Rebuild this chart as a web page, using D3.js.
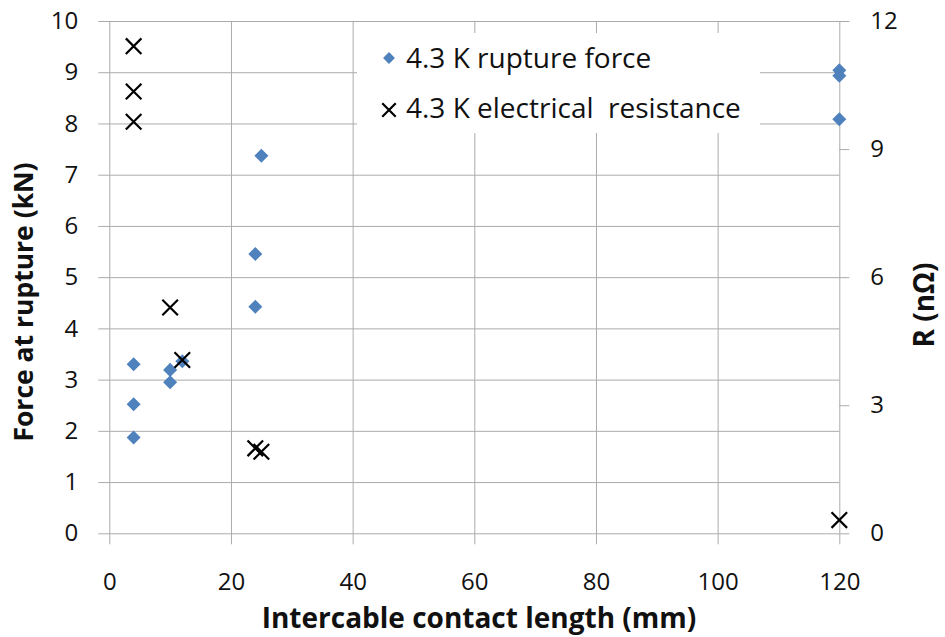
<!DOCTYPE html>
<html>
<head>
<meta charset="utf-8">
<script src="https://cdn.jsdelivr.net/npm/d3@7"></script>
<style>
  html, body { margin: 0; padding: 0; background: #fff; }
  svg { display: block; }
  text { font-family: "Open Sans", Lato, sans-serif; fill: #111; }
</style>
</head>
<body>
<svg id="chart" width="945" height="637"></svg>
<script>
// Contact length (mm) and rupture force (kN) at 4.3 K
const forceLength = [4, 4, 4, 10, 10, 12, 24, 24, 25, 120, 120, 120];
const forceValue  = [3.30, 2.52, 1.87, 3.19, 2.95, 3.36, 4.42, 5.45, 7.37, 9.04, 8.93, 8.08];

// Contact length (mm) and electrical resistance (nΩ) at 4.3 K
const resLength = [4, 4, 4, 10, 12, 24, 25, 120];
const resValue  = [11.41, 10.35, 9.64, 5.29, 4.06, 1.99, 1.91, 0.31];

const xTicks = [0, 20, 40, 60, 80, 100, 120];
const leftTicks = [0, 1, 2, 3, 4, 5, 6, 7, 8, 9, 10];
const rightTicks = [0, 3, 6, 9, 12];

const seriesNames = ["4.3 K rupture force", "4.3 K electrical  resistance"];
const xTitle = "Intercable contact length (mm)";
const yLeftTitle = "Force at rupture (kN)";
const yRightTitle = "R (nΩ)";

const svg = d3.select("#chart");
const plotLeft = 109.3, plotRight = 839.3, plotTop = 21, plotBottom = 533.3;
const gridColor = "#ababab";

const x = d3.scaleLinear().domain([0, 120]).range([plotLeft, plotRight]);
const yL = d3.scaleLinear().domain([0, 10]).range([plotBottom, plotTop]);
const yR = d3.scaleLinear().domain([0, 12]).range([plotBottom, plotTop]);

// Horizontal gridlines + left tick labels
const gLeft = svg.append("g")
  .attr("transform", `translate(${plotLeft - 11},0)`)
  .call(d3.axisLeft(yL).tickValues(leftTicks).tickSize(-(plotRight - plotLeft + 11)).tickPadding(20).tickFormat(d3.format("d")));
// Vertical gridlines + bottom tick labels
const gBottom = svg.append("g")
  .attr("transform", `translate(0,${plotBottom + 11})`)
  .call(d3.axisBottom(x).tickValues(xTicks).tickSize(-(plotBottom + 11 - plotTop)).tickPadding(29).tickFormat(d3.format("d")));
// Right axis ticks and labels
const gRight = svg.append("g")
  .attr("transform", `translate(${plotRight},0)`)
  .call(d3.axisRight(yR).tickValues(rightTicks).tickSize(10).tickPadding(21).tickFormat(d3.format("d")));

[gLeft, gBottom, gRight].forEach(g => {
  g.select(".domain").remove();
  g.selectAll(".tick line").attr("stroke", gridColor).attr("stroke-width", 1);
  g.selectAll(".tick text").style("font-family", "'Open Sans', sans-serif").style("font-size", "24px").attr("fill", "#111");
});

// Legend background box masks the grid behind it
const legend = svg.append("g");
legend.append("rect")
  .attr("x", 357).attr("y", 33).attr("width", 403).attr("height", 100)
  .attr("fill", "#fff");

const diamond = d3.symbol().type(d3.symbolDiamond2).size(125);
const cross = d3.symbol().type(d3.symbolTimes).size(160);

// Data points: force (left axis)
svg.append("g").selectAll("path")
  .data(forceLength.map((l, i) => [l, forceValue[i]]))
  .join("path")
  .attr("d", diamond)
  .attr("transform", d => `translate(${x(d[0])},${yL(d[1])})`)
  .attr("fill", "#4f81bd");

// Data points: resistance (right axis)
svg.append("g").selectAll("path")
  .data(resLength.map((l, i) => [l, resValue[i]]))
  .join("path")
  .attr("d", cross)
  .attr("transform", d => `translate(${x(d[0])},${yR(d[1])})`)
  .attr("fill", "none")
  .attr("stroke", "#000")
  .attr("stroke-width", 2.2);

// Legend entries
legend.append("path").attr("d", d3.symbol().type(d3.symbolDiamond2).size(90)).attr("transform", "translate(389,58)").attr("fill", "#4f81bd");
legend.append("path").attr("d", d3.symbol().type(d3.symbolTimes).size(120)).attr("transform", "translate(389,110)")
  .attr("fill", "none").attr("stroke", "#000").attr("stroke-width", 2.2);
legend.selectAll("text.lg").data(seriesNames).join("text")
  .attr("class", "lg")
  .attr("x", 406).attr("y", (d, i) => 68 + i * 50)
  .attr("xml:space", "preserve")
  .style("white-space", "pre")
  .style("font-size", "28px")
  .text(d => d);

// Axis titles
svg.append("text")
  .attr("x", 479).attr("y", 628)
  .attr("text-anchor", "middle")
  .style("font-size", "28px").style("font-weight", "bold")
  .text(xTitle);
svg.append("text")
  .attr("transform", "translate(33,302) rotate(-90)")
  .attr("text-anchor", "middle")
  .style("font-size", "26.5px").style("font-weight", "bold")
  .text(yLeftTitle);
svg.append("text")
  .attr("transform", "translate(934,305) rotate(-90)")
  .attr("text-anchor", "middle")
  .style("font-size", "28px").style("font-weight", "bold")
  .text(yRightTitle);
</script>
</body>
</html>
